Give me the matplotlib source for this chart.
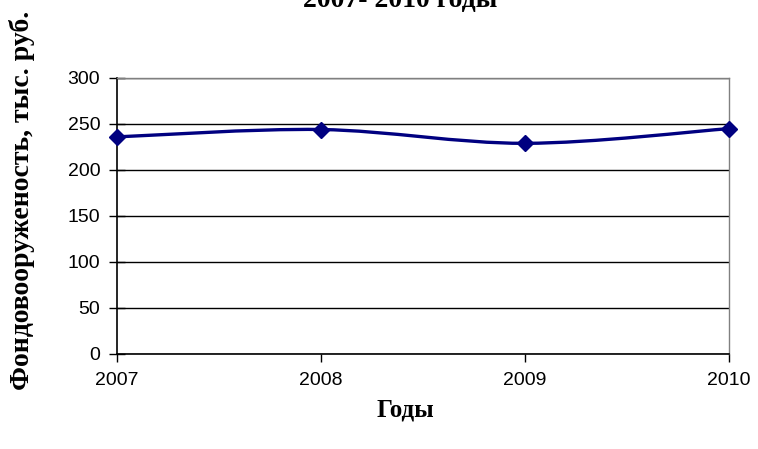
import matplotlib
matplotlib.use('Agg')
import matplotlib.pyplot as plt
from matplotlib.path import Path
from matplotlib.patches import PathPatch
import numpy as np

years = [2007, 2008, 2009, 2010]
values = [236, 244, 229, 245]
yticks = [0, 50, 100, 150, 200, 250, 300]

title = '2007- 2010 годы'
ylabel = 'Фондовооруженость, тыс. руб.'
xlabel = 'Годы'

line_color = '#000080'
serif = ['Liberation Serif', 'DejaVu Serif']
sans = ['Liberation Sans', 'DejaVu Sans']

fig = plt.figure(figsize=(7.58, 4.49), dpi=100)
ax = fig.add_axes([117 / 758, 1 - 354 / 449, (729 - 117) / 758, (354 - 78) / 449])

# smoothed line like in Excel (Bezier through the points)
x = np.array(years, dtype=float)
y = np.array(values, dtype=float)
verts = [(x[0], y[0])]
codes = [Path.MOVETO]
n = len(x)
for i in range(n - 1):
    p0 = (x[max(i - 1, 0)], y[max(i - 1, 0)])
    p1 = (x[i], y[i])
    p2 = (x[i + 1], y[i + 1])
    p3 = (x[min(i + 2, n - 1)], y[min(i + 2, n - 1)])
    c1 = (p1[0] + (p2[0] - p0[0]) / 6, p1[1] + (p2[1] - p0[1]) / 6)
    c2 = (p2[0] - (p3[0] - p1[0]) / 6, p2[1] - (p3[1] - p1[1]) / 6)
    verts += [c1, c2, p2]
    codes += [Path.CURVE4] * 3
ax.add_patch(PathPatch(Path(verts, codes), fill=False, edgecolor=line_color,
                       linewidth=2.4, zorder=3))
ax.plot(years, values, linestyle='none', marker='D', markersize=8.5,
        color=line_color, zorder=4, clip_on=False)

ax.set_xlim(2007, 2010)
ax.set_ylim(0, 300)
ax.set_xticks(years)
ax.set_yticks(yticks)
ax.yaxis.grid(True, color='black', linewidth=1)
ax.set_axisbelow(True)

for s in ['top', 'right']:
    ax.spines[s].set_color('#808080')
    ax.spines[s].set_linewidth(1)
for s in ['left', 'bottom']:
    ax.spines[s].set_color('black')
    ax.spines[s].set_linewidth(1.2)

ax.tick_params(axis='y', direction='inout', length=12, width=1, pad=6)
ax.tick_params(axis='x', direction='out', length=6, width=1, pad=7)
for lab in ax.get_xticklabels() + ax.get_yticklabels():
    lab.set_family(sans)
    lab.set_fontsize(14)

fig.text(405 / 758, 1 - 410 / 449, xlabel, family=serif, fontweight='bold',
         fontsize=18, ha='center', va='center')
fig.text(22 / 758, 1 - 200 / 449, ylabel, family=serif, fontweight='bold',
         fontsize=20, rotation=90, ha='center', va='center')
fig.text(400 / 758, 1 - 7 / 449, title, family=serif, fontweight='bold',
         fontsize=20, ha='center', va='baseline')

fig.savefig('out.png', dpi=100)
